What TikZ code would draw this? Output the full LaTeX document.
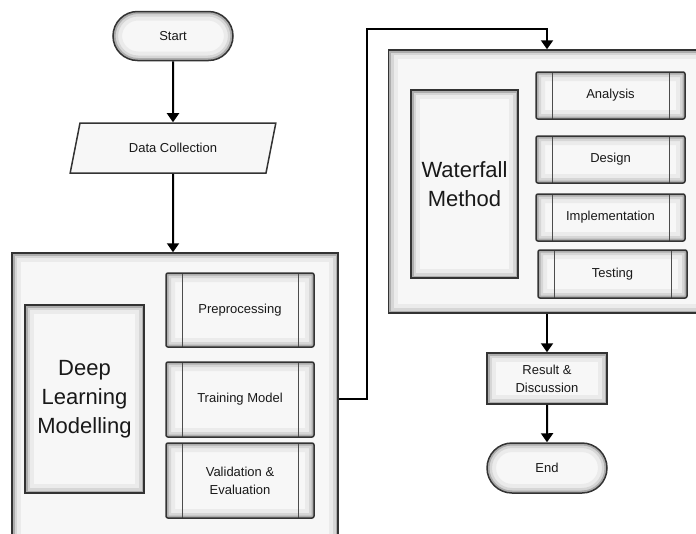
\documentclass[tikz,border=0pt]{standalone}
\usepackage{fontspec}
\setmainfont{Liberation Sans}
\usetikzlibrary{arrows.meta,shapes.geometric,shapes.misc,calc}

% soft inner shadow along the rim of a node
\newcommand{\glowrim}[1]{%
  \foreach \lw/\tn in {18/8,10/16,5/32}
    \draw[black!\tn, line width=\lw pt, rounded corners=#1]
      (path picture bounding box.south west) rectangle (path picture bounding box.north east);}

\begin{document}
\begin{tikzpicture}[x=1pt, y=-1pt,
    box/.style={draw=black!80, line width=1.5pt, fill=black!3, text=black!90, inner sep=0pt,
      align=center, font=\fontsize{13}{18}\selectfont, path picture={\glowrim{0pt}}},
    title/.style={box, font=\fontsize{22}{29}\selectfont},
    pill/.style={box, rounded rectangle, minimum width=120, minimum height=49, path picture={\glowrim{25pt}}},
    subbox/.style={box, rounded corners=2pt, minimum width=149, minimum height=47,
      path picture={\glowrim{2pt}
        \draw[black!70, line width=1pt]
          ([xshift=16pt]path picture bounding box.north west) -- ([xshift=16pt]path picture bounding box.south west)
          ([xshift=-16pt]path picture bounding box.north east) -- ([xshift=-16pt]path picture bounding box.south east);}},
    dataio/.style={box, trapezium, trapezium left angle=64, trapezium right angle=116,
      trapezium stretches=true, minimum width=207, minimum height=50, path picture={}},
    arr/.style={-{Triangle[width=12pt,length=9pt]}, line width=2pt}
]
\useasboundingbox (0,0) rectangle (696,533);
\clip (0,0) rectangle (696,533);

% left column
\node[pill] (start) at (173,36) {Start};
\node[dataio] (data) at (173,148) {Data Collection};

\node[box, minimum width=326, minimum height=292] (dl) at (175,399) {};
\node[title, minimum width=119, minimum height=188] (dltitle) at (84.5,399) {Deep\\Learning\\Modelling};
\node[subbox, minimum width=148, minimum height=74] (prep) at (240,310) {Preprocessing};
\node[subbox, minimum width=148, minimum height=75] (train) at (240,399.5) {Training Model};
\node[subbox, minimum width=148, minimum height=75] (valid) at (240,480.5) {Validation \&\\Evaluation};

% right column
\node[box, minimum width=317, minimum height=263] (wf) at (547,181.5) {};
\node[title, minimum width=107, minimum height=188] (wftitle) at (464.5,184) {Waterfall\\Method};
\node[subbox] (anal) at (610.5,95.5) {Analysis};
\node[subbox] (design) at (610.5,159.5) {Design};
\node[subbox] (impl) at (610.5,217.5) {Implementation};
\node[subbox, minimum height=48] (test) at (612.5,274) {Testing};

\node[box, minimum width=120, minimum height=51] (result) at (547,378.5) {Result \&\\Discussion};
\node[pill, minimum height=50] (end) at (547,468) {End};

\coordinate (bend) at (367,29);

\draw[arr] (start) -- (data);
\draw[arr] (data) -- (data |- dl.north);
\draw[arr] (dl.east) -| (bend) -| (wf.north);
\draw[arr] (wf) -- (result);
\draw[arr] (result) -- (end);
\end{tikzpicture}
\end{document}
